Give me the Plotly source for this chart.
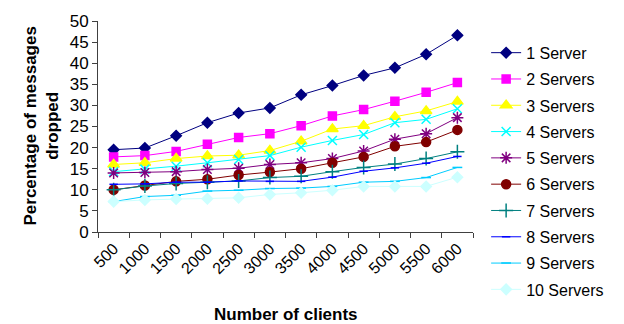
import plotly.graph_objects as go

# Number of clients (x categories)
clients = ["500", "1000", "1500", "2000", "2500", "3000",
           "3500", "4000", "4500", "5000", "5500", "6000"]

# Percentage of messages dropped per server count
s1 = [19.5, 19.9, 22.8, 25.9, 28.2, 29.4, 32.5, 34.7, 37.1, 38.9, 42.1, 46.6]
s2 = [17.8, 18.1, 19.1, 20.8, 22.4, 23.3, 25.2, 27.5, 29.0, 31.0, 33.1, 35.4]
s3 = [16.0, 16.4, 17.4, 18.0, 18.2, 19.3, 21.5, 24.4, 25.2, 27.3, 28.7, 30.9]
s4 = [14.3, 14.9, 15.6, 16.4, 17.2, 18.1, 20.1, 21.7, 23.1, 25.9, 26.7, 29.2]
s5 = [14.0, 14.1, 14.3, 14.8, 15.1, 16.0, 16.4, 17.4, 19.2, 22.0, 23.3, 27.1]
s6 = [10.0, 11.0, 12.0, 12.5, 13.5, 14.2, 15.0, 16.4, 17.8, 20.3, 21.3, 24.2]
s7 = [10.0, 10.9, 11.5, 11.8, 12.1, 12.9, 13.2, 14.3, 15.3, 16.1, 17.4, 19.0]
s8 = [11.3, 11.4, 11.8, 11.8, 12.1, 12.0, 12.0, 13.0, 14.4, 15.2, 16.3, 17.9]
s9 = [7.2, 8.4, 8.7, 9.7, 9.9, 10.3, 10.4, 10.8, 11.8, 12.0, 12.9, 15.3]
s10 = [7.2, 7.6, 7.8, 7.9, 8.1, 8.9, 9.3, 9.9, 10.8, 10.8, 10.8, 13.0]

names = ["1 Server", "2 Servers", "3 Servers", "4 Servers", "5 Servers",
         "6 Servers", "7 Servers", "8 Servers", "9 Servers", "10 Servers"]
series = [s1, s2, s3, s4, s5, s6, s7, s8, s9, s10]

styles = [
    dict(color="#000080", symbol="diamond", size=8),
    dict(color="#FF00FF", symbol="square", size=8),
    dict(color="#FFFF00", symbol="triangle-up", size=10),
    dict(color="#00FFFF", symbol="x-thin-open", size=9),
    dict(color="#800080", symbol="asterisk-open", size=10),
    dict(color="#800000", symbol="circle", size=9),
    dict(color="#008080", symbol="cross-thin-open", size=10),
    dict(color="#0000FF", symbol="line-ew-open", size=6),
    dict(color="#00CCFF", symbol="line-ew-open", size=7),
    dict(color="#CCFFFF", symbol="diamond", size=8),
]

fig = go.Figure()
for name, vals, st in zip(names, series, styles):
    fig.add_trace(go.Scatter(
        x=clients, y=vals, name=name, mode="lines+markers",
        legendgroup=name,
        line=dict(color=st["color"], width=1),
        marker=dict(color=st["color"], symbol=st["symbol"], size=st["size"],
                    line=dict(color=st["color"], width=1.5)),
    ))

axis_color = "#404040"
fig.update_layout(
    width=624, height=324,
    margin=dict(l=98, r=151, t=18, b=92),
    paper_bgcolor="white", plot_bgcolor="white",
    font=dict(family="Liberation Sans, Arial, sans-serif", color="black", size=16),
    showlegend=True,
    legend=dict(x=1.035, xanchor="left", y=0.93, yanchor="top",
                font=dict(size=16), tracegroupgap=2.5, maxheight=310,
                bgcolor="rgba(0,0,0,0)"),
    xaxis=dict(type="category", range=[-0.5, 11.5], tickson="boundaries",
               showline=True, linecolor=axis_color, linewidth=1,
               ticks="outside", ticklen=5, tickcolor=axis_color,
               tickangle=-45, tickfont=dict(size=16), showgrid=False,
               zeroline=False),
    yaxis=dict(range=[0, 50], dtick=5, showline=True, linecolor=axis_color,
               linewidth=1, ticks="outside", ticklen=5, tickcolor=axis_color,
               tickfont=dict(size=17), showgrid=False, zeroline=False),
    annotations=[
        dict(text="<b>Number of clients</b>", xref="paper", yref="paper",
             x=0.501, y=-0.391, showarrow=False, font=dict(size=17),
             xanchor="center", yanchor="middle"),
        dict(text="<b>Percentage of messages<br>dropped</b>", xref="paper",
             yref="paper", x=-0.152, y=0.5, textangle=-90, showarrow=False,
             font=dict(size=17), xanchor="center", yanchor="middle"),
    ],
)

fig.write_html("out.html")
